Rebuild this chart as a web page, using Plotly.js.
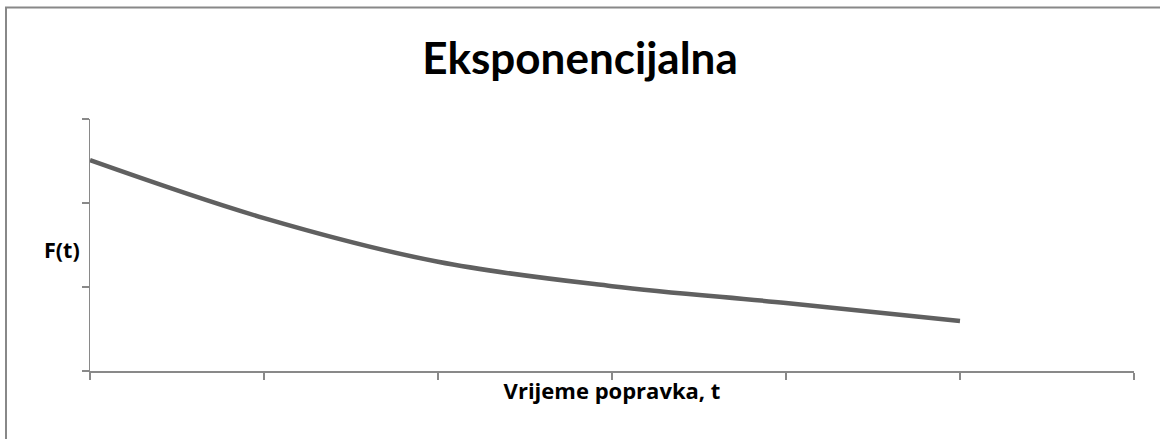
<!DOCTYPE html>
<html>
<head>
<meta charset="utf-8">
<script src="https://cdn.plot.ly/plotly-3.0.1.min.js"></script>
<style>
html,body{margin:0;padding:0;background:#fff;}
#chart{width:1160px;height:439px;}
</style>
</head>
<body>
<div id="chart"></div>
<script>
// Data
const t = [0, 1, 2, 3, 4, 5];
const F = [2.51, 1.82, 1.30, 1.01, 0.81, 0.595];
const xTicks = [0, 1, 2, 3, 4, 5, 6];
const yTicks = [0, 1, 2, 3];

const W = 1160, H = 439;
const mL = 90, mR = 26, mT = 119, mB = 68;
const pw = W - mL - mR, ph = H - mT - mB;
const px = x => (x - mL) / pw;
const py = y => (H - mB - y) / ph;

const trace = {
  x: t, y: F, type: 'scatter', mode: 'lines',
  line: {color: '#606060', width: 4.5, shape: 'spline', smoothing: 1},
  hoverinfo: 'skip', showlegend: false
};

const layout = {
  width: W, height: H,
  margin: {l: mL, r: mR, t: mT, b: mB, pad: 0},
  paper_bgcolor: '#ffffff', plot_bgcolor: '#ffffff',
  font: {family: '"Open Sans", sans-serif', color: '#000'},
  title: {
    text: '<b>Eksponencijalna</b>',
    font: {family: 'Lato, sans-serif', size: 44, color: '#000'},
    x: 0.5, xref: 'container', xanchor: 'center',
    y: 1 - 59 / H, yref: 'container', yanchor: 'middle'
  },
  xaxis: {
    range: [0, 6], tickvals: xTicks, showticklabels: false,
    ticks: 'outside', ticklen: 7, tickwidth: 1.5, tickcolor: '#898989',
    showline: true, linecolor: '#898989', linewidth: 1.5,
    showgrid: false, zeroline: false, fixedrange: true,
    title: {text: '<b>Vrijeme popravka, t</b>', font: {family: '"Open Sans", sans-serif', size: 22, color: '#000'}, standoff: 5}
  },
  yaxis: {
    range: [0, 3], tickvals: yTicks, showticklabels: false,
    ticks: 'outside', ticklen: 7, tickwidth: 1.5, tickcolor: '#898989',
    showline: true, linecolor: '#898989', linewidth: 1.5,
    showgrid: false, zeroline: false, fixedrange: true
  },
  annotations: [{
    text: '<b>F(t)</b>', xref: 'paper', yref: 'paper',
    x: px(62), y: py(249), xanchor: 'center', yanchor: 'middle',
    showarrow: false, font: {family: '"Open Sans", sans-serif', size: 21.5, color: '#000'}
  }],
  shapes: [{
    type: 'rect', xref: 'paper', yref: 'paper',
    x0: px(6), x1: px(1170), y0: py(450), y1: py(7.5),
    line: {color: '#888888', width: 2}, layer: 'below'
  }]
};

Plotly.newPlot('chart', [trace], layout, {staticPlot: true, displayModeBar: false});
</script>
</body>
</html>
